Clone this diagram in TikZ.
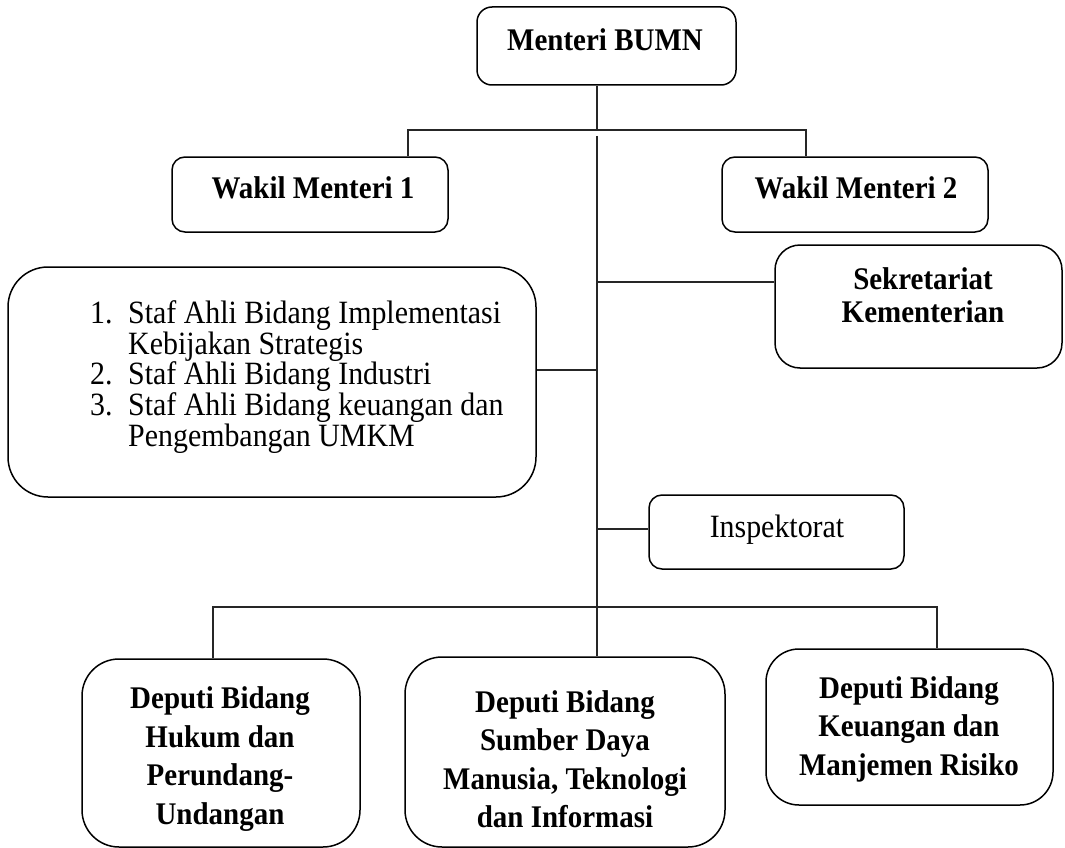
\documentclass[tikz,border=0pt]{standalone}
\usepackage{fontspec}
\setmainfont{Liberation Serif}[FakeStretch=0.92]
\begin{document}
\begin{tikzpicture}[x=1pt,y=-1pt,
  box/.style={draw=black, line width=1.5pt, rectangle, inner sep=0pt},
  conn/.style={draw=black!85, line width=1.1pt},
  bt/.style={font=\fontsize{31.5}{28}\selectfont\bfseries, align=center, inner sep=0pt},
  rt/.style={font=\fontsize{32.5}{28}\selectfont, align=left, inner sep=0pt}]
\useasboundingbox (0,0) rectangle (1065,848);
% boxes
\node[box, rounded corners=15pt, minimum width=259pt, minimum height=78pt] (M) at (606.5,46) {};
\node[box, rounded corners=13pt, minimum width=276pt, minimum height=75pt] (W1) at (310,194.5) {};
\node[box, rounded corners=13pt, minimum width=266pt, minimum height=75pt] (W2) at (855,194.5) {};
\node[box, rounded corners=25pt, minimum width=287pt, minimum height=123pt] (S) at (918.5,306.5) {};
\node[box, rounded corners=40pt, minimum width=528pt, minimum height=230pt] (ST) at (272,382) {};
\node[box, rounded corners=13pt, minimum width=255pt, minimum height=74pt] (I) at (776.5,532) {};
\node[box, rounded corners=37pt, minimum width=278pt, minimum height=188pt] (D1) at (221,753) {};
\node[box, rounded corners=37pt, minimum width=320pt, minimum height=190pt] (D2) at (565,752) {};
\node[box, rounded corners=33pt, minimum width=287pt, minimum height=156pt] (D3) at (909.5,727) {};
% texts
\node[bt] (Mt) at (605,40) {Menteri BUMN};
\node[bt] (W1t) at (313,188) {Wakil Menteri 1};
\node[bt] (W2t) at (856,188) {Wakil Menteri 2};
\node[bt, anchor=base] (St1) at (923,289) {Sekretariat};
\node[bt, anchor=base] (St2) at (923,322) {Kementerian};
\node[rt, anchor=west] (STt) at (90,377) {\makebox[38pt][l]{1.}Staf Ahli Bidang Implementasi\\
\hspace*{38pt}Kebijakan Strategis\\
\makebox[38pt][l]{2.}Staf Ahli Bidang Industri\\
\makebox[38pt][l]{3.}Staf Ahli Bidang keuangan dan\\
\hspace*{38pt}Pengembangan UMKM};
\node[rt, align=center] (It) at (777,530) {Inspektorat};
\node[bt, font=\fontsize{31.5}{38.5}\selectfont\bfseries] (D1t) at (220,759) {Deputi Bidang\\Hukum dan\\Perundang-\\Undangan};
\node[bt, font=\fontsize{31.5}{38.5}\selectfont\bfseries] (D2t) at (565,759) {Deputi Bidang\\Sumber Daya\\Manusia, Teknologi\\dan Informasi};
\node[bt, font=\fontsize{31.5}{38.5}\selectfont\bfseries] (D3t) at (909,729) {Deputi Bidang\\Keuangan dan\\Manjemen Risiko};
% junctions
\coordinate (j1) at (597,130);
\coordinate (j1l) at (408,130);
\coordinate (j1r) at (806,130);
\coordinate (t0) at (597,136);
\coordinate (cs) at (597,282);
\coordinate (cst) at (597,370);
\coordinate (ci) at (597,529);
\coordinate (bl) at (213,607);
\coordinate (br) at (937,607);
% connectors
\draw[conn] (M.south -| j1) -- (j1);
\draw[conn] (W1.north -| j1l) -- (j1l) -- (j1r) -- (W2.north -| j1r);
\draw[conn] (t0) -- (D2.north -| t0);
\draw[conn] (cs) -- (S.west |- cs);
\draw[conn] (ST.east |- cst) -- (cst);
\draw[conn] (ci) -- (I.west |- ci);
\draw[conn] (D1.north -| bl) -- (bl) -- (br) -- (D3.north -| br);
\end{tikzpicture}
\end{document}
